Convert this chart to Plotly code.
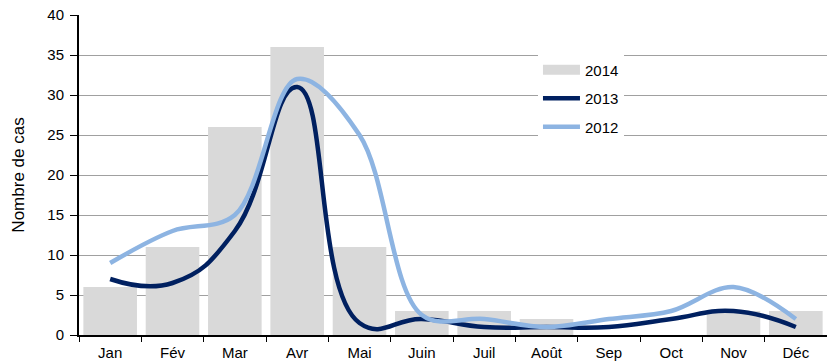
import plotly.graph_objects as go

months = ["Jan", "Fév", "Mar", "Avr", "Mai", "Juin", "Juil", "Août", "Sep", "Oct", "Nov", "Déc"]
cases_2014 = [6, 11, 26, 36, 11, 3, 3, 2, 0, 0, 3, 3]
cases_2013 = [7, 6.5, 13, 31, 1.5, 2, 1, 1, 1, 2, 3, 1]
cases_2012 = [9, 13, 15, 32, 25, 2.5, 2, 1, 2, 3, 6, 2]

FONT = "Liberation Sans, Arial, sans-serif"
BAR_COLOR = "#d9d9d9"

fig = go.Figure()

# 2014 bars (legend entry drawn by a wide swatch trace below)
fig.add_trace(go.Bar(
    x=months, y=cases_2014, name="2014",
    marker=dict(color=BAR_COLOR, line=dict(width=0)),
    showlegend=False, legendgroup="a",
))
# legend-only swatch for the bars: a wide flat rectangle
fig.add_trace(go.Scatter(
    x=[None], y=[None], name="2014", mode="lines",
    line=dict(color=BAR_COLOR, width=11),
    legendgroup="a", hoverinfo="skip",
))
fig.add_trace(go.Scatter(
    x=months, y=cases_2013, name="2013", mode="lines",
    line=dict(color="#002060", width=4.5, shape="spline", smoothing=1.3),
    legendgroup="b",
))
fig.add_trace(go.Scatter(
    x=months, y=cases_2012, name="2012", mode="lines",
    line=dict(color="#8db4e2", width=4.5, shape="spline", smoothing=1.0),
    legendgroup="c",
))

fig.update_layout(
    width=827, height=362,
    margin=dict(l=79, r=0, t=15, b=27),
    plot_bgcolor="white", paper_bgcolor="white",
    font=dict(family=FONT, size=15, color="black"),
    bargap=0.14,
    showlegend=True,
    legend=dict(
        x=0.6136, y=0.88, xanchor="left", yanchor="top",
        bgcolor="white", font=dict(size=15),
        tracegroupgap=6, itemwidth=37,
    ),
    xaxis=dict(
        type="category", showgrid=False,
        showline=True, linecolor="black", linewidth=2,
        ticks="outside", tickson="boundaries", ticklen=5, tickcolor="black",
        tickfont=dict(size=15), ticklabelstandoff=3,
    ),
    yaxis=dict(
        range=[0, 40], dtick=5,
        showgrid=True, gridcolor="#a0a0a0", gridwidth=1,
        showline=True, linecolor="black", linewidth=2,
        ticks="outside", ticklen=7, tickcolor="black",
        tickfont=dict(size=15), ticklabelstandoff=3,
        title=dict(text="Nombre de cas", font=dict(size=17), standoff=18),
        zeroline=False,
    ),
)

fig.write_html("out.html")
